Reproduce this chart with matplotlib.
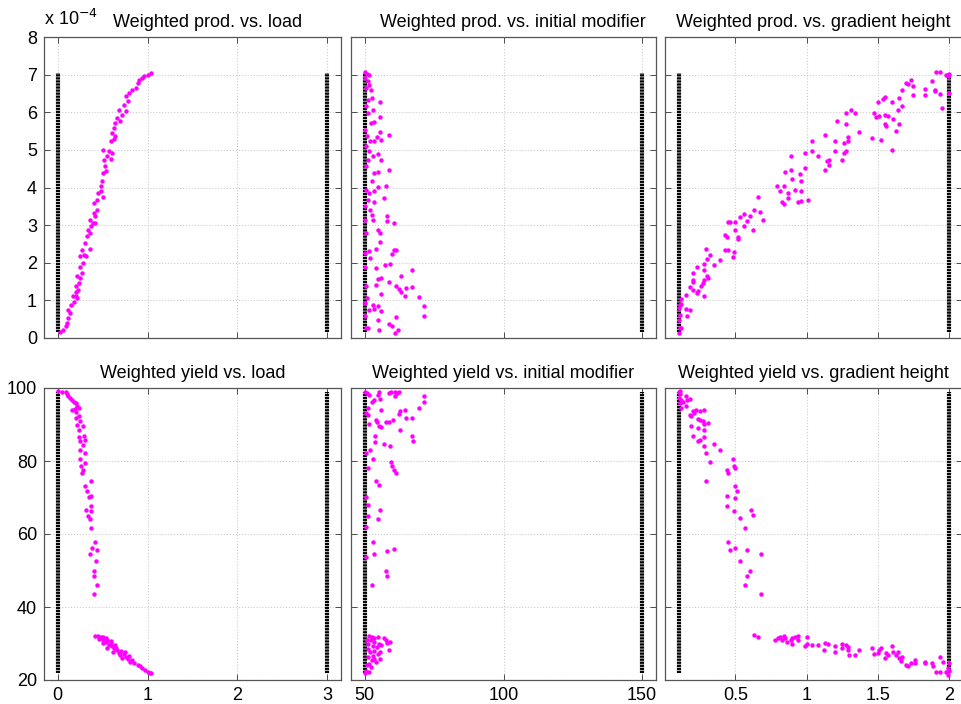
import matplotlib
matplotlib.use("Agg")
import matplotlib.pyplot as plt
import numpy as np

plt.rcParams['font.family'] = ['Liberation Sans', 'DejaVu Sans']

# parameter bounds (black columns) and the y span they are drawn over
load_bounds = [0, 3]
modifier_bounds = [50, 150]
height_bounds = [0.1, 2]
prod_span = [0.15, 7.05]      # x 1e-4
yield_span = [22, 99]

# weighted productivity (x 1e-4) vs load
load_p = [0.03, 0.06, 0.09, 0.10, 0.12, 0.14, 0.12, 0.15, 0.18, 0.17, 0.20, 0.22, 0.21, 0.23,
          0.20, 0.24, 0.25, 0.22, 0.27, 0.25, 0.28, 0.25, 0.29, 0.32, 0.27, 0.36, 0.31, 0.33,
          0.36, 0.34, 0.37, 0.39, 0.42, 0.36, 0.42, 0.40, 0.44, 0.41, 0.44, 0.45, 0.48, 0.51,
          0.48, 0.49, 0.51, 0.54, 0.53, 0.52, 0.55, 0.51, 0.57, 0.61, 0.59, 0.59, 0.63, 0.61,
          0.64, 0.63, 0.64, 0.70, 0.66, 0.72, 0.68, 0.76, 0.74, 0.78, 0.76, 0.79, 0.83, 0.87,
          0.89, 0.91, 0.94, 0.96, 1.00, 1.04]
prod_l = [0.15, 0.22, 0.31, 0.40, 0.53, 0.66, 0.75, 0.89, 0.97, 1.11, 1.11, 1.06, 1.21, 1.28,
          1.37, 1.46, 1.59, 1.66, 1.73, 1.90, 1.99, 2.17, 2.21, 2.17, 2.35, 2.36, 2.52, 2.70,
          2.79, 2.88, 2.97, 3.05, 3.05, 3.14, 3.23, 3.32, 3.41, 3.59, 3.67, 3.85, 3.90, 3.76,
          4.03, 4.16, 4.38, 4.43, 4.56, 4.74, 4.83, 5.00, 4.96, 4.92, 4.75, 5.24, 5.28, 5.46,
          5.37, 5.58, 5.71, 5.76, 5.84, 5.93, 6.06, 6.02, 6.20, 6.29, 6.42, 6.51, 6.59, 6.64,
          6.79, 6.86, 6.90, 6.96, 6.99, 7.05]

# weighted productivity vs initial modifier
mod_p = [50, 50.7, 51.6, 50, 51, 51.6, 52.2, 50.4, 52.4, 55.4, 50.4, 52.9, 51, 55.4, 52.2, 53.4,
         50, 55.4, 58.7, 54.3, 51.9, 53.4, 55.7, 50.4, 51.6, 54.6, 52.8, 55.7, 51.2, 58.7, 54.6,
         53.4, 52.4, 57.5, 54.8, 50.4, 53.4, 51.6, 56.9, 51, 53.4, 51.9, 52.4, 57.9, 58.1, 60.5,
         53.1, 54.8, 50.4, 55.4, 55.5, 53.9, 60.5, 59.9, 61.1, 51.9, 51.6, 57.2, 59.1, 53.9, 67.1,
         63, 55.7, 54.8, 58.7, 53.9, 61.1, 67.1, 62.3, 64.9, 63, 64.4, 55.9, 50.7, 69.5, 52.8,
         54.8, 53.4, 51.6, 55.7, 71.5, 71.5, 61.1, 54.6, 58.7, 59.9, 50.4, 55.2, 62, 60.8, 51,
         50, 50, 50.4, 50, 50.4, 50.7, 51, 50, 50, 50]
prod_m = [7.06, 7.02, 7.00, 6.90, 6.82, 6.73, 6.60, 6.64, 6.38, 6.26, 6.16, 6.05, 5.98, 5.87,
          5.71, 5.73, 5.54, 5.47, 5.39, 5.34, 5.23, 5.23, 5.25, 5.09, 4.96, 4.90, 4.83, 4.74,
          4.74, 4.46, 4.41, 4.39, 4.16, 4.05, 4.01, 3.94, 3.90, 3.85, 3.72, 3.68, 3.61, 3.41,
          3.28, 3.23, 3.10, 3.06, 3.14, 2.87, 2.79, 2.79, 2.54, 2.36, 2.33, 2.22, 2.35, 2.13,
          2.30, 1.95, 1.97, 1.86, 1.82, 1.66, 1.60, 1.56, 1.49, 1.42, 1.39, 1.36, 1.30, 1.33,
          1.21, 1.12, 1.17, 1.06, 1.08, 0.89, 0.84, 0.77, 0.75, 0.71, 0.86, 0.59, 0.56, 0.47,
          0.38, 0.31, 0.27, 0.20, 0.22, 0.13, 0.27, 0.58, 1.90, 1.37, 3.50, 4.56, 5.36, 6.33,
          3.14, 2.26, 0.93]

# weighted productivity vs gradient height
height_p = [0.10, 0.11, 0.12, 0.10, 0.11, 0.10, 0.11, 0.12, 0.15, 0.16, 0.18, 0.12, 0.15, 0.18,
            0.20, 0.20, 0.20, 0.23, 0.24, 0.26, 0.28, 0.27, 0.28, 0.30, 0.31, 0.23, 0.20, 0.28,
            0.28, 0.30, 0.32, 0.29, 0.35, 0.39, 0.43, 0.45, 0.48, 0.49, 0.44, 0.43, 0.45, 0.46,
            0.50, 0.50, 0.52, 0.52, 0.56, 0.58, 0.53, 0.60, 0.56, 0.62, 0.63, 0.66, 0.67, 0.69,
            0.79, 0.81, 0.84, 0.87, 0.87, 0.83, 0.84, 0.85, 0.89, 0.90, 0.92, 0.96, 0.95, 0.96,
            0.94, 0.96, 0.89, 0.99, 1.01, 0.99, 1.04, 1.04, 1.08, 1.13, 1.13, 1.14, 1.16, 1.16,
            1.20, 1.20, 1.21, 1.25, 1.26, 1.26, 1.28, 1.29, 1.29, 1.28, 1.28, 1.31, 1.34, 1.37,
            1.46, 1.47, 1.49, 1.51, 1.50, 1.52, 1.54, 1.55, 1.55, 1.57, 1.55, 1.56, 1.60, 1.60,
            1.61, 1.63, 1.65, 1.65, 1.64, 1.67, 1.67, 1.70, 1.71, 1.73, 1.75, 1.75, 1.83, 1.83,
            1.88, 1.90, 1.91, 1.94, 1.90, 1.94, 1.95, 1.98, 1.99, 2.00, 2.00, 1.99]
prod_h = [0.13, 0.27, 0.27, 0.49, 0.62, 0.80, 0.89, 0.91, 0.77, 0.59, 0.74, 1.04, 1.15, 1.36,
          1.28, 1.55, 1.48, 1.20, 1.24, 1.37, 1.12, 1.46, 1.55, 1.66, 1.59, 1.89, 1.73, 1.80,
          1.98, 2.10, 2.21, 2.37, 1.95, 2.08, 2.35, 2.35, 2.15, 2.28, 2.68, 2.75, 3.09, 3.08,
          3.08, 2.86, 2.68, 2.63, 2.97, 3.10, 3.21, 3.23, 3.29, 2.88, 3.39, 3.76, 3.35, 3.14,
          4.05, 3.90, 4.03, 3.85, 3.72, 3.61, 3.57, 4.40, 4.46, 4.22, 3.93, 3.92, 4.36, 4.18,
          3.61, 3.64, 4.83, 4.52, 3.68, 4.92, 4.96, 5.23, 4.83, 4.47, 5.39, 4.70, 4.61, 4.74,
          4.96, 5.23, 5.76, 4.74, 5.19, 4.92, 4.96, 5.34, 5.23, 5.69, 5.98, 6.06, 5.98, 5.47,
          5.32, 5.98, 5.87, 5.91, 6.26, 5.27, 6.35, 6.40, 5.94, 5.91, 5.69, 5.63, 4.99, 6.26,
          5.82, 5.51, 5.69, 6.38, 6.06, 6.17, 6.59, 6.77, 6.75, 6.87, 6.69, 6.47, 6.61, 6.45,
          6.82, 6.59, 7.06, 7.06, 6.57, 6.48, 6.10, 7.00, 6.97, 7.02, 6.50, 6.96]

# weighted yield vs load
load_y = [0.01, 0.05, 0.09, 0.10, 0.12, 0.14, 0.16, 0.18, 0.20, 0.22, 0.16, 0.19, 0.24, 0.21,
          0.24, 0.20, 0.25, 0.22, 0.28, 0.24, 0.29, 0.24, 0.25, 0.30, 0.28, 0.25, 0.31, 0.25,
          0.31, 0.26, 0.28, 0.27, 0.37, 0.31, 0.33, 0.35, 0.37, 0.37, 0.32, 0.37, 0.34, 0.36,
          0.37, 0.42, 0.38, 0.44, 0.36, 0.43, 0.40, 0.41, 0.44, 0.41,
          0.42, 0.45, 0.48, 0.51, 0.46, 0.50, 0.54, 0.55, 0.57, 0.51, 0.59, 0.61, 0.55, 0.63,
          0.64, 0.66, 0.62, 0.68, 0.71, 0.70, 0.74, 0.76, 0.72, 0.78, 0.81, 0.83, 0.85, 0.89,
          0.92, 0.94, 0.97, 1.00, 1.03, 1.04, 0.59, 0.54, 0.65, 0.75, 0.79]
yield_l = [99.1, 99.0, 98.8, 98.4, 97.9, 97.3, 96.8, 96.3, 95.9, 95.0, 94.1, 94.2, 94.5, 93.3,
           92.4, 91.8, 90.9, 89.9, 89.5, 88.6, 86.9, 86.6, 85.4, 85.8, 84.5, 83.1, 82.2, 80.5,
           79.4, 78.5, 77.6, 76.7, 74.6, 73.2, 71.7, 70.1, 70.5, 67.7, 66.6, 66.2, 65.0, 64.1,
           61.6, 57.7, 56.1, 55.7, 54.6, 52.5, 49.9, 48.6, 45.9, 43.5,
           32.1, 32.1, 31.9, 31.7, 31.2, 31.0, 30.5, 31.0, 29.6, 30.1, 30.1, 29.2, 28.9, 28.7,
           29.6, 28.2, 27.8, 27.5, 28.0, 26.9, 27.2, 26.4, 26.0, 25.7, 25.0, 25.5, 24.6, 24.1,
           23.7, 23.2, 22.8, 22.3, 22.0, 21.8, 30.8, 31.4, 28.9, 27.8, 26.6]

# weighted yield vs initial modifier
mod_y = [50, 50.7, 51.6, 52.4, 53.4, 54.6, 55.2, 55.5, 58.7, 59.3, 60.7, 61.7, 60.7, 62.3, 71.5,
         71.3, 56, 51, 50.4, 51.2, 69.5, 67.1, 64.4, 62.7, 62.3, 60.3, 58.7, 57.5, 53.9, 54.3,
         64.7, 55.2, 56, 62.7, 51.6, 67.1, 67.2, 53.6, 53.7, 56.9, 59.1, 51.9, 52.8, 50.4, 59.3,
         59.9, 60.5, 61.1, 51.2, 53.9, 55.1, 50.4, 51.2, 51, 55.5, 54.9, 52.8, 53.4, 58.1, 60.5,
         57.5, 57.9, 52.4, 50.4, 50.4,
         51.6, 52.4, 53.4, 54.8, 56.9, 57.5, 59.1, 58.1, 50.7, 52.2, 53.4, 55.2, 55.7, 54.3, 52.8,
         51, 51.9, 53.4, 58.7, 55.5, 54.6, 52.8, 51, 55.5, 52.4, 51.6, 50.7, 52.2, 50.4, 51.6, 50,
         53.4, 54, 51.2]
yield_m = [98.8, 98.6, 98.2, 96.3, 96.8, 98.2, 98.8, 97.0, 98.6, 98.8, 98.8, 98.6, 97.9, 98.8,
           97.7, 96.1, 94.0, 94.5, 93.1, 92.7, 94.5, 91.8, 94.0, 93.6, 92.9, 91.3, 90.8, 90.6,
           91.3, 90.6, 91.8, 89.7, 89.3, 88.4, 90.2, 86.9, 85.6, 86.9, 85.3, 84.7, 84.0, 83.1,
           80.5, 82.1, 79.6, 78.7, 77.6, 76.6, 78.0, 74.5, 73.3, 70.2, 67.9, 64.9, 66.6, 64.1,
           57.9, 54.5, 55.4, 56.0, 49.9, 48.5, 45.9, 53.8, 62.0,
           32.0, 31.8, 31.6, 31.8, 31.6, 31.0, 30.4, 30.1, 30.9, 30.9, 30.4, 30.0, 29.5, 29.0,
           29.2, 28.6, 27.7, 27.9, 28.1, 27.7, 27.0, 26.7, 26.3, 25.8, 25.4, 24.5, 24.0, 23.5,
           22.6, 22.2, 21.9, 25.8, 24.9, 30.0]

# weighted yield vs gradient height
height_y = [0.10, 0.11, 0.11, 0.10, 0.12, 0.11, 0.13, 0.15, 0.18, 0.16, 0.12, 0.15, 0.18, 0.20,
            0.19, 0.19, 0.21, 0.22, 0.25, 0.28, 0.24, 0.25, 0.24, 0.27, 0.28, 0.31, 0.28, 0.20,
            0.24, 0.25, 0.28, 0.28, 0.35, 0.39, 0.29, 0.32, 0.29, 0.48, 0.44, 0.45, 0.49, 0.50,
            0.50, 0.51, 0.44, 0.50, 0.44, 0.49, 0.61, 0.53, 0.62, 0.57, 0.45, 0.46, 0.50, 0.58,
            0.53, 0.60, 0.58, 0.57, 0.68, 0.68,
            0.63, 0.66, 0.78, 0.80, 0.81, 0.84, 0.85, 0.83, 0.86, 0.89, 0.90, 0.92, 0.94, 0.94,
            0.90, 1.00, 1.00, 0.99, 1.04, 1.08, 1.12, 1.13, 1.15, 1.20, 1.20, 1.25, 1.25, 1.28,
            1.29, 1.29, 1.30, 1.34, 1.37, 1.46, 1.47, 1.50, 1.51, 1.52, 1.55, 1.56, 1.57, 1.60,
            1.61, 1.63, 1.64, 1.65, 1.66, 1.67, 1.70, 1.71, 1.73, 1.76, 1.76, 1.83, 1.83, 1.88,
            1.89, 1.91, 1.94, 1.94, 1.96, 1.98, 2.00, 2.00, 1.99, 1.99]
yield_h = [98.8, 98.4, 99.1, 97.3, 96.8, 95.9, 96.3, 97.7, 97.0, 96.8, 94.5, 95.0, 92.7, 93.6,
           92.2, 89.7, 93.1, 93.9, 93.6, 93.9, 91.5, 91.3, 89.0, 90.9, 90.2, 90.4, 88.6, 86.9,
           85.6, 85.8, 86.6, 84.0, 84.6, 83.1, 82.2, 79.6, 74.6, 80.5, 77.6, 76.7, 78.5, 78.1,
           73.2, 71.7, 70.5, 69.8, 67.8, 66.2, 66.6, 64.4, 65.1, 61.6, 57.9, 55.6, 56.1, 55.6,
           52.5, 49.9, 48.5, 45.9, 54.5, 43.5,
           32.3, 31.7, 31.0, 31.5, 31.9, 32.1, 31.5, 31.0, 30.5, 31.0, 31.5, 31.9, 32.1, 31.0,
           30.0, 31.7, 30.0, 29.4, 29.6, 29.6, 28.2, 30.2, 30.0, 29.3, 27.8, 29.9, 28.7, 29.6,
           29.0, 28.1, 26.9, 26.9, 28.2, 28.7, 27.1, 27.3, 28.1, 28.7, 25.9, 27.5, 26.9, 29.2,
           27.8, 26.9, 27.8, 25.9, 25.3, 26.3, 24.1, 23.8, 24.7, 25.5, 24.6, 25.0, 24.6, 24.6,
           23.9, 22.3, 22.1, 26.3, 25.0, 22.3, 22.6, 24.6, 23.2, 21.4]

titles = [["Weighted prod. vs. load", "Weighted prod. vs. initial modifier",
           "Weighted prod. vs. gradient height"],
          ["Weighted yield vs. load", "Weighted yield vs. initial modifier",
           "Weighted yield vs. gradient height"]]
xlims = [(-0.15, 3.15), (45, 155), (0.005, 2.095)]
xticks = [[0, 1, 2, 3], [50, 100, 150], [0.5, 1, 1.5, 2]]
xticklabels = [["0", "1", "2", "3"], ["50", "100", "150"], ["0.5", "1", "1.5", "2"]]
bounds = [load_bounds, modifier_bounds, height_bounds]

xs = [[load_p, mod_p, height_p], [load_y, mod_y, height_y]]
ys = [[prod_l, prod_m, prod_h], [yield_l, yield_m, yield_h]]
spans = [prod_span, yield_span]

fig = plt.figure(figsize=(9.62, 7.04), dpi=100)
W, H = 962.0, 704.0
col_px = [(44, 341), (351, 656), (665, 962.5)]
row_px = [(37, 338), (388, 680)]
title_x = [[0.55, 0.53, 0.5], [0.5, 0.5, 0.5]]

for r in range(2):
    for c in range(3):
        x0, x1 = col_px[c]
        y0, y1 = row_px[r]
        ax = fig.add_axes([x0 / W, 1 - y1 / H, (x1 - x0) / W, (y1 - y0) / H])
        ax.set_axisbelow(True)
        ax.grid(True, color='#cccccc', linestyle=':', linewidth=0.8)
        for b in bounds[c]:
            ax.plot([b, b], spans[r], color='#000000', linewidth=3.0,
                    dashes=(0.55, 0.18), dash_capstyle='butt', zorder=2)
        ax.plot(xs[r][c], ys[r][c], 'o', color='#ff00ff', markersize=3.2,
                markeredgewidth=0, zorder=3)
        ax.set_xlim(xlims[c])
        ax.set_xticks(xticks[c])
        if r == 0:
            ax.set_ylim(0, 8)
            ax.set_yticks(range(0, 9))
            ax.set_xticklabels([])
        else:
            ax.set_ylim(20, 100)
            ax.set_yticks([20, 40, 60, 80, 100])
            ax.set_xticklabels(xticklabels[c])
        if c != 0:
            ax.set_yticklabels([])
        ax.tick_params(direction='in', top=True, right=True, length=4, width=0.6,
                       labelsize=13, color='#333333', pad=5)
        for s in ax.spines.values():
            s.set_color('#555555')
            s.set_linewidth(0.9)
        ax.set_title(titles[r][c], fontsize=13, x=title_x[r][c], pad=7)
        if r == 0 and c == 0:
            ax.text(0.0, 1.025, r'x 10$^{-4}$', transform=ax.transAxes, fontsize=13,
                    ha='left', va='bottom')

fig.savefig("out.png", dpi=100)
